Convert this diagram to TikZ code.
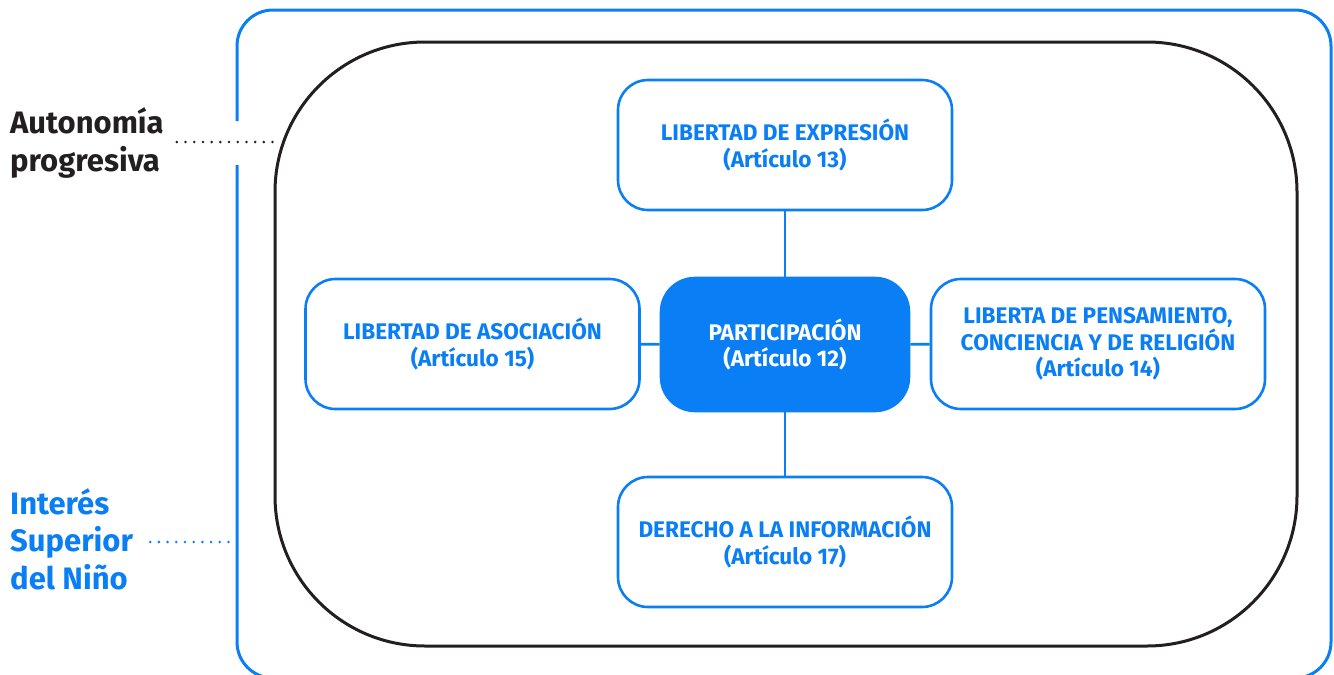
\documentclass[tikz,border=0pt]{standalone}
\usepackage{fontspec}
\setmainfont{Fira Sans}
\definecolor{cblue}{HTML}{0A7FF5}
\definecolor{cdark}{HTML}{231F20}
\begin{document}
\begin{tikzpicture}[x=1pt,y=-1pt,
  boxst/.style={draw=cblue, line width=2.6pt, rounded corners=30pt, minimum width=334pt, minimum height=130pt,
    align=center, text=cblue, font=\fontsize{22.6}{26.5}\selectfont\bfseries, inner sep=0pt},
  conn/.style={draw=cblue, line width=2.6pt},
  sidelabel/.style={anchor=west, align=left, font=\fontsize{31}{37.5}\selectfont\bfseries, inner sep=0pt},
  dotline/.style={line width=2.8pt, line cap=round, dash pattern=on 0pt off 8.7pt}
]
\useasboundingbox (0,0) rectangle (1334,675);
% outer blue frame with gap
\draw[cblue, line width=3pt, rounded corners=36pt] (237,121) |- (1331,10) |- (237,678) -- (237,165);
% inner black frame
\draw[cdark, line width=3pt, rounded corners=150pt] (275,42) rectangle (1297,646);
% nodes
\node[boxst] (top) at (785,145) {LIBERTAD DE EXPRESIÓN\\(Artículo 13)};
\node[boxst] (left) at (472.5,344) {LIBERTAD DE ASOCIACIÓN\\(Artículo 15)};
\node[boxst, fill=cblue, text=white, minimum width=248pt, minimum height=133pt, rounded corners=34pt] (mid) at (785,344.5) {PARTICIPACIÓN\\(Artículo 12)};
\node[boxst] (right) at (1098,344) {LIBERTA DE PENSAMIENTO,\\CONCIENCIA Y DE RELIGIÓN\\(Artículo 14)};
\node[boxst] (bot) at (785,542) {DERECHO A LA INFORMACIÓN\\(Artículo 17)};
% connectors
\draw[conn] (top) -- (mid);
\draw[conn] (mid) -- (bot);
\draw[conn] (left) -- (mid);
\draw[conn] (mid) -- (right);
% side labels
\node[sidelabel, text=cdark] (auto) at (10,143) {Autonomía\\progresiva};
\coordinate (autoend) at (281,142);
\draw[dotline, cdark] ([xshift=13pt]auto.east |- autoend) -- (autoend);
\node[sidelabel, text=cblue] (isn) at (10,539) {Interés\\Superior\\del Niño};
\coordinate (isnend) at (237,542);
\draw[dotline, cblue] ([xshift=17pt]isn.east |- isnend) -- (isnend);
\end{tikzpicture}
\end{document}
